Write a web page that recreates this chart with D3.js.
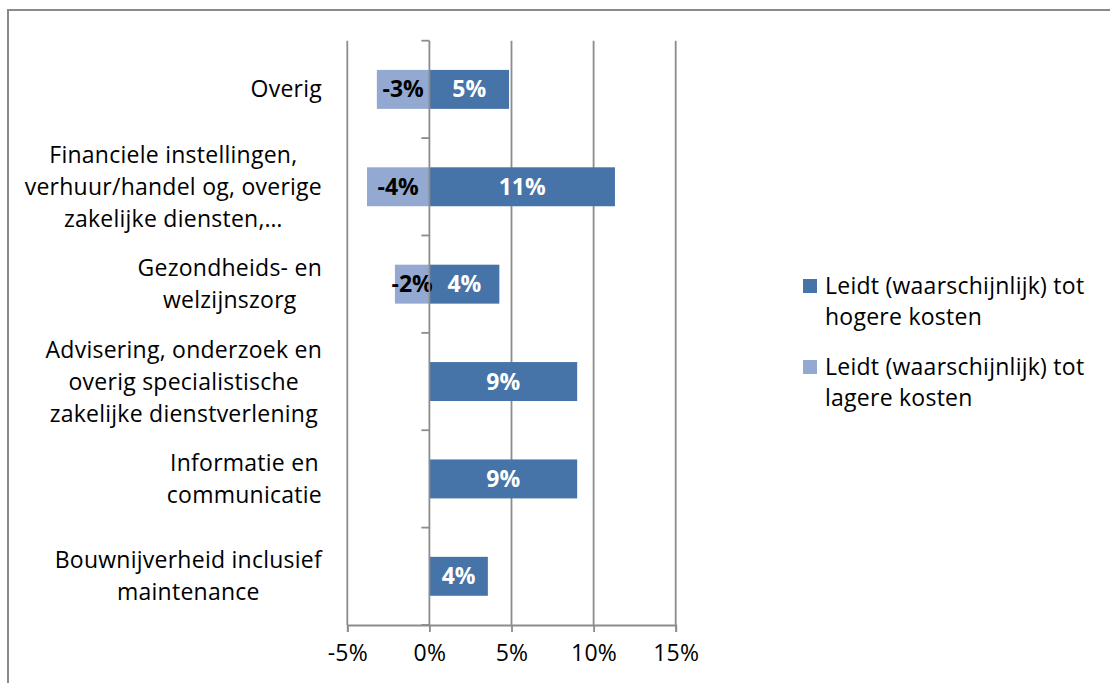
<!DOCTYPE html>
<html lang="nl">
<head>
    <meta charset="UTF-8">
    <title>Kosten per sector</title>
    <style type="text/css">
        body { margin: 0; background: #fff; }
        svg text { font-family: "Open Sans", sans-serif; letter-spacing: 0.25px; }
        .tick-label { font-size: 23px; fill: #000; }
        .cat-label { font-size: 23px; fill: #000; }
        .bar-label { font-size: 23px; font-weight: bold; letter-spacing: 0; }
        .legend-label { font-size: 23px; fill: #000; }
    </style>
</head>
<body>
<svg width="1110" height="683"></svg>

<script src="https://d3js.org/d3.v7.min.js"></script>

<script>
    // categories (top to bottom), each split in the lines shown on the chart
    var categories = [
        ["Overig"],
        ["Financiele instellingen,", "verhuur/handel og, overige", "zakelijke diensten,\u2026"],
        ["Gezondheids- en", "welzijnszorg"],
        ["Advisering, onderzoek en", "overig specialistische", "zakelijke dienstverlening"],
        ["Informatie en", "communicatie"],
        ["Bouwnijverheid inclusief", "maintenance"]
    ];
    var hogereKosten = [0.0485, 0.113, 0.0426, 0.09, 0.09, 0.0356];
    var lagereKosten = [-0.032, -0.038, -0.021, null, null, null];
    var xTicks = [-0.05, 0, 0.05, 0.10, 0.15];
    var seriesNames = [
        ["Leidt (waarschijnlijk) tot", "hogere kosten"],
        ["Leidt (waarschijnlijk) tot", "lagere kosten"]
    ];
    var colors = ["#4673a8", "#94a9d1"];

    var svg = d3.select("svg");
    var grid = "#8c8c8c";

    // outer frame, runs off the picture at right and bottom
    svg.append("rect")
            .attr("x", 8).attr("y", 10)
            .attr("width", 1130).attr("height", 700)
            .attr("fill", "none")
            .attr("stroke", "#8a8a8a")
            .attr("stroke-width", 2);

    var x = d3.scaleLinear()
            .domain([-0.05, 0.15])
            .range([347.3, 675.7]);

    var y = d3.scaleBand()
            .domain(d3.range(categories.length))
            .range([40.7, 625])
            .paddingInner(0.6)
            .paddingOuter(0.3);

    // plain hyphen as minus sign, like the original
    var pct = d3.formatLocale({decimal: ",", thousands: ".", grouping: [3], currency: ["€", ""], minus: "-"}).format(".0%");

    // vertical gridlines
    svg.append("g").selectAll("line")
            .data(xTicks.filter(function (d) { return d !== 0; }))
            .enter().append("line")
            .attr("x1", function (d) { return x(d); })
            .attr("x2", function (d) { return x(d); })
            .attr("y1", 40.7).attr("y2", 625)
            .attr("stroke", grid)
            .attr("stroke-width", 1.8);

    // bars
    var bars = svg.append("g");
    bars.selectAll(".lager")
            .data(lagereKosten)
            .enter().filter(function (d) { return d !== null; })
            .append("rect")
            .attr("x", function (d) { return x(d); })
            .attr("y", function (d, i) { return y(i); })
            .attr("width", function (d) { return x(0) - x(d); })
            .attr("height", y.bandwidth())
            .attr("fill", colors[1]);

    bars.selectAll(".hoger")
            .data(hogereKosten)
            .enter().append("rect")
            .attr("x", x(0))
            .attr("y", function (d, i) { return y(i); })
            .attr("width", function (d) { return x(d) - x(0); })
            .attr("height", y.bandwidth())
            .attr("fill", colors[0]);

    // bar value labels
    svg.append("g").selectAll("text")
            .data(lagereKosten)
            .enter().filter(function (d) { return d !== null; })
            .append("text")
            .attr("class", "bar-label")
            .attr("x", function (d) { return (x(d) + x(0)) / 2; })
            .attr("y", function (d, i) { return y(i) + y.bandwidth() / 2; })
            .attr("dy", "0.35em")
            .attr("text-anchor", "middle")
            .attr("fill", "#000")
            .text(function (d) { return pct(d); });

    svg.append("g").selectAll("text")
            .data(hogereKosten)
            .enter().append("text")
            .attr("class", "bar-label")
            .attr("x", function (d) { return (x(d) + x(0)) / 2; })
            .attr("y", function (d, i) { return y(i) + y.bandwidth() / 2; })
            .attr("dy", "0.35em")
            .attr("text-anchor", "middle")
            .attr("fill", "#fff")
            .text(function (d) { return pct(d); });

    // vertical axis at 0 with ticks between categories
    var yEdges = d3.range(categories.length + 1).map(function (i) {
        return 40.7 + i * y.step();
    });
    svg.append("line")
            .attr("x1", x(0)).attr("x2", x(0))
            .attr("y1", 40.7).attr("y2", 625)
            .attr("stroke", grid).attr("stroke-width", 1.8);
    svg.append("g").selectAll("line")
            .data(yEdges)
            .enter().append("line")
            .attr("x1", x(0) - 8).attr("x2", x(0))
            .attr("y1", function (d) { return d; })
            .attr("y2", function (d) { return d; })
            .attr("stroke", grid).attr("stroke-width", 1.8);

    // bottom axis
    var xAxis = svg.append("g")
            .attr("transform", "translate(0,625)")
            .call(d3.axisBottom(x).tickValues(xTicks).tickFormat(pct).tickSize(7).tickPadding(13));
    xAxis.select(".domain").attr("stroke", grid).attr("stroke-width", 1.8);
    xAxis.selectAll(".tick line").attr("stroke", grid).attr("stroke-width", 1.8);
    xAxis.selectAll(".tick text")
            .attr("class", "tick-label");
    xAxis.attr("font-family", null).attr("font-size", null);

    // category labels: lines centred, block right-aligned next to the axis
    var lineH = 32;
    categories.forEach(function (lines, i) {
        var g = svg.append("g");
        var cy = y(i) + y.bandwidth() / 2;
        var texts = g.selectAll("text")
                .data(lines)
                .enter().append("text")
                .attr("class", "cat-label")
                .attr("text-anchor", "middle")
                .attr("y", function (d, j) { return cy + (j - (lines.length - 1) / 2) * lineH; })
                .attr("dy", "0.35em")
                .text(function (d) { return d; });
        var w = d3.max(texts.nodes(), function (n) { return n.getComputedTextLength(); });
        texts.attr("x", 322 - w / 2);
    });

    // legend
    var legend = svg.append("g").attr("transform", "translate(803,0)");
    var legendY = [286, 367];
    seriesNames.forEach(function (lines, i) {
        legend.append("rect")
                .attr("x", 0).attr("y", legendY[i] - 7)
                .attr("width", 14).attr("height", 14)
                .attr("fill", colors[i]);
        legend.selectAll(null)
                .data(lines)
                .enter().append("text")
                .attr("class", "legend-label")
                .attr("x", 22)
                .attr("y", function (d, j) { return legendY[i] + j * 31; })
                .attr("dy", "0.35em")
                .text(function (d) { return d; });
    });
</script>

</body>
</html>
